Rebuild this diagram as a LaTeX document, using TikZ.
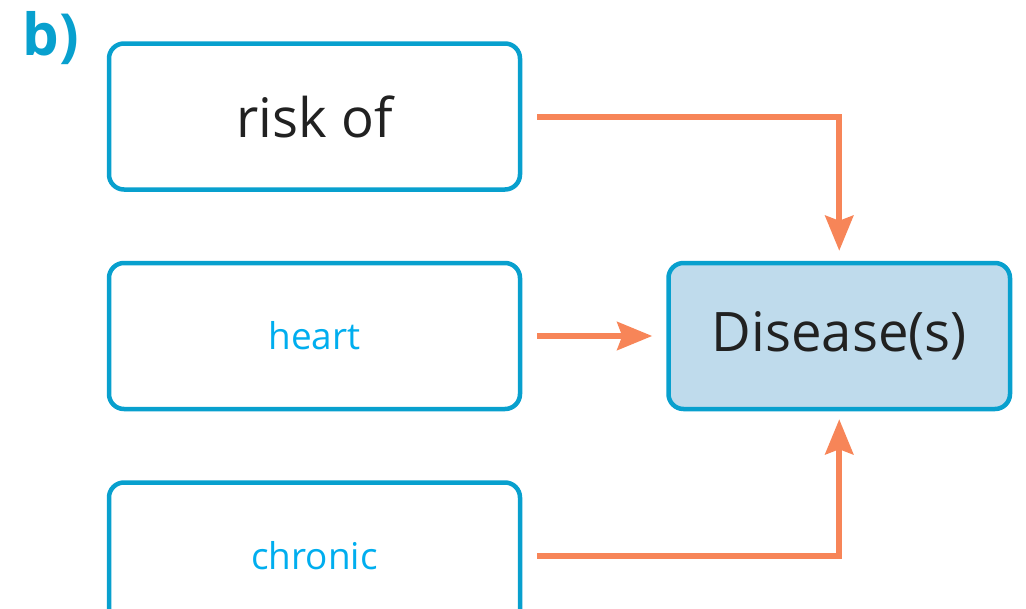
\documentclass[tikz,border=0pt]{standalone}
\usepackage{fontspec}
\setmainfont{Open Sans}
\usetikzlibrary{arrows.meta, positioning}
\definecolor{BoxBlue}{RGB}{8,160,206}
\definecolor{FillBlue}{RGB}{191,219,236}
\definecolor{TextCyan}{RGB}{0,174,239}
\definecolor{ArrowOrange}{RGB}{247,133,88}

\begin{document}
\begin{tikzpicture}[
          box/.style={rectangle, draw=BoxBlue, line width=0.09cm, fill=white, minimum width=8.22cm, minimum height=2.92cm, rounded corners=0.3cm, align=center},
          target/.style={box, fill=FillBlue, minimum width=6.83cm},
          big/.style={font=\fontsize{31}{37}\selectfont, text=black!87},
          small/.style={font=\fontsize{21}{26}\selectfont, text=TextCyan},
          arrow/.style={-{Stealth[length=0.7cm, width=0.56cm, inset=0.1cm]}, line width=0.12cm, ArrowOrange}
        ]
          \useasboundingbox (0,0) rectangle (20.52,-12.18);
          \node (risk) [box, big] at (6.29,-2.33) {risk of};
          \node (heart) [box, small, below=1.38cm of risk] {heart};
          \node (chronic) [box, small, below=1.38cm of heart] {chronic};
          \node (disease) [target, big, right=2.88cm of heart] {Disease(s)};

          \draw [arrow] ([xshift=0.3cm]risk.east) -| ([yshift=0.2cm]disease.north);
          \draw [arrow] ([xshift=0.3cm]heart.east) -- ([xshift=-0.28cm]disease.west);
          \draw [arrow] ([xshift=0.3cm]chronic.east) -| ([yshift=-0.16cm]disease.south);

          \node (panel) [anchor=base west, inner sep=0pt, text=BoxBlue, font=\fontsize{33}{40}\selectfont\bfseries] at (0.45,-1.1) {b)};
        \end{tikzpicture}
\end{document}
